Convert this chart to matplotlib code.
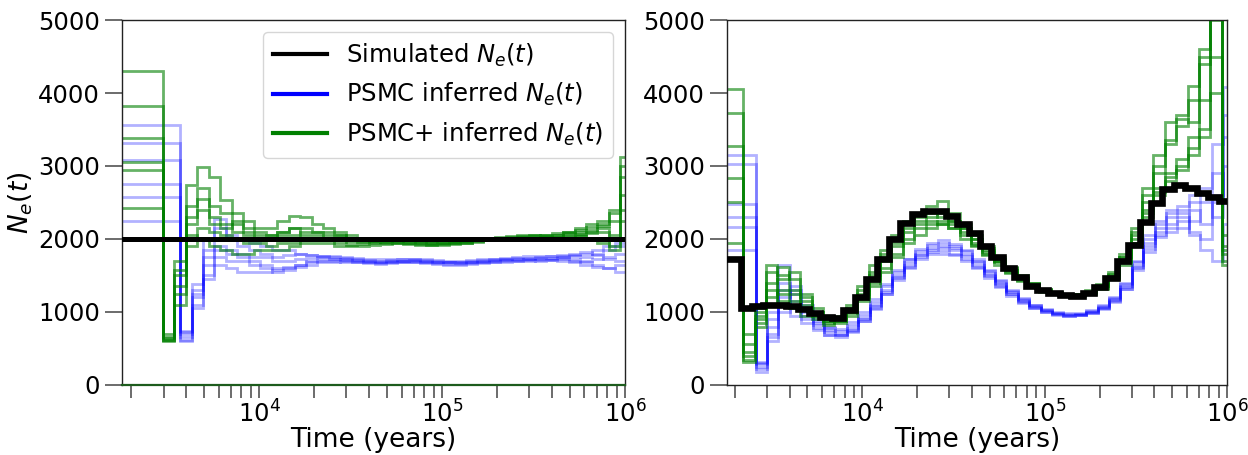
import matplotlib.pyplot as plt
from matplotlib.lines import Line2D

# ---- constant-size scenario (left) ----
SIM_L_EDGES = [1700, 1000000]
SIM_L = [2000]

PSMCP_L_EDGES = [1700, 2980, 3441, 3974, 4589, 5299, 6120, 7067, 8161, 9424,
                 10883, 12568, 14513, 16760, 19354, 22350, 25810, 29805, 34419, 39747,
                 45899, 53004, 61209, 70684, 81626, 94261, 108852, 125702, 145160, 167630,
                 193578, 223543, 258146, 298105, 344252, 397542, 459081, 530147, 612214, 706985,
                 816424, 942807, 1000000]
PSMCP_L = [
    [4300, 610, 1700, 2740, 2980, 2850, 2540, 2350, 2250, 2150,
     2150, 2250, 2320, 2300, 2200, 2150, 2100, 2050, 2020, 2010,
     2000, 2010, 1990, 1980, 1970, 1980, 1990, 2000, 2010, 2020,
     2030, 2040, 2050, 2060, 2060, 2080, 2100, 2150, 2200, 2240, 2400, 3120],
    [3820, 640, 1100, 2300, 2550, 2450, 2350, 2200, 2150, 2100,
     2050, 2100, 2150, 2150, 2100, 2100, 2050, 2000, 1990, 1970,
     1960, 1950, 1950, 1940, 1930, 1940, 1950, 1960, 1980, 2000,
     2010, 2020, 2030, 2040, 2050, 2060, 2080, 2100, 2120, 2180, 2250, 2850],
    [3380, 600, 1580, 2200, 2400, 2300, 2200, 2100, 2050, 2000,
     2000, 2050, 2050, 2100, 2100, 2050, 2050, 1980, 1970, 1960,
     1970, 1980, 1970, 1960, 1950, 1950, 1960, 1970, 1990, 2000,
     2010, 2000, 2010, 2020, 2030, 2020, 2050, 2070, 2100, 2150, 2050, 2600],
    [3050, 700, 1350, 1900, 2150, 2100, 2050, 2000, 1950, 1950,
     1900, 1950, 1950, 2000, 2000, 2000, 1950, 1920, 1930, 1950,
     1950, 1960, 1950, 1930, 1920, 1930, 1940, 1950, 1960, 1980,
     1990, 1990, 2000, 2000, 2010, 2000, 2020, 2040, 2000, 1950, 1900, 2250],
    [2940, 620, 1250, 2050, 2000, 1900, 1850, 1800, 1800, 1850,
     1850, 1850, 1900, 1950, 1950, 1950, 1900, 1900, 1900, 1920,
     1930, 1940, 1930, 1920, 1920, 1920, 1930, 1950, 1970, 1990,
     2000, 2000, 2000, 2010, 2010, 2030, 2040, 2060, 2080, 2100, 1850, 2400],
    [2420, 650, 1500, 2450, 2700, 2200, 2150, 2250, 2100, 2050,
     2050, 2100, 2150, 2050, 2050, 2000, 2000, 1960, 1960, 1980,
     1990, 2000, 1990, 1970, 1960, 1960, 1970, 1980, 2000, 2010,
     2020, 2030, 2040, 2050, 2040, 2060, 2090, 2120, 2160, 2200, 2350, 3000],
]

PSMC_L_EDGES = [1700, 3700, 4273, 4934, 5698, 6580, 7599, 8775, 10134, 11702,
                13514, 15606, 18022, 20812, 24034, 27754, 32051, 37012, 42742, 49358,
                56999, 65823, 76013, 87780, 101368, 117060, 135181, 156108, 180273, 208180,
                240407, 277622, 320598, 370227, 427538, 493721, 570149, 658408, 760334, 878034,
                1000000]
PSMC_L = [
    [3560, 720, 1380, 1850, 2150, 2050, 2000, 1950, 1900, 1850,
     1850, 1800, 1780, 1760, 1750, 1740, 1720, 1710, 1700, 1710,
     1720, 1720, 1710, 1700, 1690, 1690, 1700, 1710, 1720, 1730,
     1740, 1740, 1750, 1760, 1760, 1780, 1800, 1850, 1900, 1950],
    [3320, 600, 1100, 1500, 1750, 1700, 1700, 1650, 1600, 1550,
     1580, 1620, 1650, 1680, 1690, 1700, 1690, 1680, 1670, 1680,
     1690, 1690, 1680, 1670, 1660, 1660, 1670, 1680, 1690, 1700,
     1700, 1710, 1700, 1710, 1720, 1700, 1680, 1650, 1600, 1550],
    [3080, 700, 1250, 1650, 1900, 1850, 1800, 1750, 1750, 1700,
     1700, 1720, 1740, 1750, 1730, 1720, 1710, 1700, 1690, 1700,
     1700, 1700, 1690, 1690, 1680, 1680, 1690, 1700, 1710, 1720,
     1720, 1730, 1740, 1740, 1750, 1760, 1750, 1780, 1720, 1700],
    [2750, 650, 1200, 1750, 1850, 1800, 1750, 1700, 1650, 1600,
     1620, 1650, 1700, 1720, 1720, 1710, 1700, 1690, 1690, 1690,
     1700, 1710, 1700, 1690, 1680, 1670, 1680, 1690, 1700, 1710,
     1710, 1720, 1720, 1730, 1740, 1720, 1700, 1720, 1750, 1800],
    [2580, 740, 1050, 1450, 1650, 1600, 1550, 1550, 1550, 1580,
     1600, 1650, 1680, 1700, 1700, 1690, 1680, 1670, 1660, 1670,
     1680, 1680, 1670, 1660, 1650, 1650, 1660, 1670, 1680, 1690,
     1700, 1700, 1710, 1710, 1700, 1680, 1650, 1620, 1600, 1650],
    [2240, 620, 1300, 2000, 2280, 2000, 1900, 1850, 1800, 1750,
     1780, 1800, 1780, 1760, 1760, 1750, 1740, 1730, 1720, 1720,
     1730, 1730, 1720, 1710, 1700, 1700, 1710, 1720, 1730, 1740,
     1750, 1760, 1760, 1770, 1780, 1800, 1820, 1800, 1850, 1900],
]

# ---- oscillating scenario (right) ----
SIM_R_EDGES = [1700, 2150, 2483, 2867, 3311, 3823, 4415, 5099, 5888, 6800,
               7852, 9068, 10472, 12093, 13965, 16127, 18624, 21507, 24837, 28682,
               33122, 38250, 44171, 51010, 58907, 68026, 78557, 90719, 104763, 120981,
               139710, 161339, 186316, 215160, 248469, 286935, 331355, 382652, 441889, 510297,
               589297, 680526, 785872, 907530, 1000000]
SIM_R = [1720, 1050, 1080, 1100, 1100, 1080, 1040, 990, 930, 920,
         1020, 1200, 1450, 1720, 2000, 2220, 2340, 2390, 2390, 2320,
         2200, 2080, 1900, 1750, 1600, 1480, 1360, 1300, 1260, 1230,
         1225, 1260, 1340, 1460, 1700, 1920, 2230, 2490, 2690, 2740,
         2700, 2630, 2570, 2520]

PSMCP_R_EDGES = [1700, 2220, 2564, 2961, 3419, 3948, 4559, 5265, 6080, 7021,
                 8108, 9363, 10812, 12486, 14419, 16651, 19229, 22206, 25644, 29613,
                 34197, 39491, 45604, 52664, 60816, 70231, 81103, 93657, 108155, 124898,
                 144232, 166559, 192342, 222116, 256499, 296205, 342057, 395008, 456155, 526768,
                 608312, 702479, 811222, 936779, 1000000]
PSMCP_R = [
    [4060, 310, 900, 1650, 1500, 1300, 1150, 1000, 900, 950,
     1100, 1350, 1650, 1850, 2050, 2250, 2350, 2450, 2520, 2350,
     2200, 2050, 1900, 1750, 1620, 1500, 1400, 1320, 1280, 1250,
     1250, 1300, 1380, 1550, 1800, 2150, 2700, 3150, 3600, 3700, 4100, 4600, 6200, 1650],
    [3720, 560, 1050, 1400, 1620, 1450, 1200, 1050, 920, 900,
     1050, 1300, 1550, 1800, 2000, 2200, 2300, 2350, 2300, 2250,
     2150, 2000, 1880, 1720, 1600, 1480, 1390, 1310, 1270, 1240,
     1240, 1280, 1360, 1500, 1750, 2050, 2500, 2900, 3300, 3550, 3900, 4500, 5600, 1800],
    [3270, 400, 800, 1200, 1300, 1250, 1050, 950, 850, 880,
     1000, 1200, 1450, 1700, 1900, 2100, 2200, 2250, 2200, 2150,
     2100, 1950, 1820, 1700, 1580, 1460, 1370, 1300, 1260, 1230,
     1230, 1270, 1350, 1480, 1700, 2000, 2400, 2700, 2900, 3100, 3400, 3900, 4500, 1900],
    [2840, 700, 950, 1100, 1450, 1550, 1250, 1000, 880, 850,
     980, 1180, 1400, 1600, 1800, 2000, 2150, 2200, 2250, 2200,
     2050, 1920, 1800, 1680, 1550, 1440, 1360, 1290, 1250, 1220,
     1220, 1260, 1330, 1460, 1680, 1950, 2350, 2650, 2850, 3000, 3250, 3500, 5300, 2050],
    [2500, 450, 1000, 1300, 1150, 1050, 950, 900, 820, 870,
     950, 1150, 1350, 1550, 1750, 1950, 2050, 2150, 2200, 2150,
     2000, 1900, 1780, 1650, 1530, 1420, 1340, 1280, 1240, 1220,
     1230, 1250, 1320, 1450, 1650, 1950, 2300, 2600, 2800, 2950, 3150, 3400, 4000, 1700],
    [1950, 340, 850, 1550, 1250, 1150, 1100, 950, 870, 920,
     1050, 1250, 1500, 1750, 1950, 2150, 2250, 2300, 2350, 2250,
     2150, 2000, 1850, 1700, 1580, 1470, 1380, 1300, 1260, 1240,
     1240, 1280, 1370, 1520, 1750, 2100, 2600, 3000, 3350, 3650, 3600, 4400, 5000, 1850],
]

PSMC_R_EDGES = [1700, 2600, 3002, 3467, 4004, 4624, 5340, 6167, 7121, 8224,
                9497, 10967, 12665, 14625, 16889, 19504, 22523, 26010, 30036, 34686,
                40056, 46257, 53417, 61687, 71236, 82263, 94998, 109704, 126687, 146298,
                168945, 195098, 225300, 260177, 300452, 346962, 400672, 462697, 534322, 617035,
                712552, 822855, 950233, 1000000]
PSMC_R = [
    [3150, 250, 650, 1200, 1350, 1100, 900, 800, 760, 860,
     1000, 1180, 1380, 1580, 1730, 1860, 1940, 1980, 1930, 1850,
     1720, 1580, 1440, 1300, 1190, 1100, 1040, 1000, 980, 985,
     1020, 1090, 1200, 1400, 1700, 2050, 2250, 2400, 2450, 2600, 2700, 3300, 4080],
    [3030, 320, 800, 1650, 1100, 950, 820, 720, 700, 780,
     920, 1100, 1300, 1500, 1680, 1800, 1880, 1900, 1880, 1800,
     1680, 1540, 1400, 1270, 1170, 1080, 1020, 985, 965, 970,
     1000, 1070, 1180, 1360, 1640, 1950, 2150, 2300, 2350, 2250, 2500, 2300, 3400],
    [2480, 180, 1000, 1400, 1250, 1000, 850, 750, 690, 750,
     900, 1080, 1280, 1480, 1650, 1780, 1850, 1880, 1850, 1760,
     1650, 1510, 1380, 1250, 1150, 1070, 1010, 975, 955, 960,
     995, 1060, 1160, 1340, 1620, 1900, 2100, 2200, 2300, 2100, 1850, 1700, 2200],
    [2300, 300, 700, 1100, 1150, 900, 780, 690, 660, 730,
     870, 1040, 1240, 1440, 1600, 1720, 1790, 1800, 1780, 1700,
     1600, 1470, 1340, 1220, 1120, 1050, 995, 965, 948, 952,
     985, 1045, 1140, 1310, 1570, 1820, 2030, 2100, 2150, 2400, 2200, 2500, 3000],
    [2170, 220, 900, 1300, 950, 850, 750, 680, 680, 740,
     880, 1050, 1250, 1460, 1620, 1750, 1820, 1840, 1800, 1720,
     1620, 1490, 1360, 1240, 1140, 1060, 1000, 970, 950, 955,
     990, 1055, 1150, 1320, 1600, 1860, 2060, 2150, 2250, 2050, 2000, 2600, 3700],
    [1850, 280, 600, 1000, 1300, 1050, 880, 780, 740, 820,
     960, 1140, 1350, 1550, 1720, 1840, 1920, 1950, 1910, 1830,
     1700, 1560, 1420, 1290, 1180, 1090, 1030, 990, 970, 975,
     1010, 1080, 1190, 1380, 1680, 2000, 2200, 2350, 2400, 2500, 2650, 2900, 2500],
]

plt.rcParams['font.size'] = 17.5


def draw_runs(ax, edges, runs, color, alpha, lw=2.0, z=2):
    for vals in runs:
        ax.stairs(vals, edges, baseline=None, color=color, alpha=alpha, lw=lw, zorder=z)


def style_axes(ax, xmin):
    ax.set_xscale('log')
    ax.set_xlim(xmin, 1e6)
    ax.set_ylim(0, 5000)
    ax.set_yticks([0, 1000, 2000, 3000, 4000, 5000])
    ax.set_xlabel('Time (years)', fontsize=19, labelpad=-0.5)
    ax.tick_params(axis='y', which='major', length=12, width=1.1, color='#444', pad=4)
    ax.tick_params(axis='x', which='major', length=9, width=1.1, color='#444', pad=2)
    ax.tick_params(axis='x', which='minor', length=9, width=1.1, color='#444')
    for s in ax.spines.values():
        s.set_color('#222')
        s.set_linewidth(1.0)


fig = plt.figure(figsize=(12.48, 4.55), dpi=100)
ax1 = fig.add_axes([0.0978, 0.154, 0.403, 0.802])
ax2 = fig.add_axes([0.5825, 0.154, 0.4007, 0.802])

# left: constant population size
draw_runs(ax1, PSMC_L_EDGES, PSMC_L, 'blue', 0.3)
draw_runs(ax1, PSMCP_L_EDGES, PSMCP_L, 'green', 0.6)
ax1.stairs(SIM_L, SIM_L_EDGES, baseline=None, color='black', lw=3.6, zorder=4)
style_axes(ax1, 1780)
ax1.spines['bottom'].set_color('#1d5c1d')
ax1.spines['bottom'].set_linewidth(1.6)
ax1.set_ylabel('$N_e(t)$', fontsize=19, labelpad=2)

handles = [Line2D([], [], color='black', lw=3),
           Line2D([], [], color='blue', lw=3),
           Line2D([], [], color='green', lw=3)]
labels = ['Simulated $N_e(t)$', 'PSMC inferred $N_e(t)$', 'PSMC+ inferred $N_e(t)$']
ax1.legend(handles, labels, loc='upper right', fontsize=17.5, handlelength=2.2)

# right: oscillating population size
draw_runs(ax2, PSMC_R_EDGES, PSMC_R, 'blue', 0.3)
draw_runs(ax2, PSMCP_R_EDGES, PSMCP_R, 'green', 0.6)
ax2.stairs(SIM_R, SIM_R_EDGES, baseline=None, color='black', lw=4.8, zorder=4)
style_axes(ax2, 1810)

fig.savefig('out.png', dpi=100)
